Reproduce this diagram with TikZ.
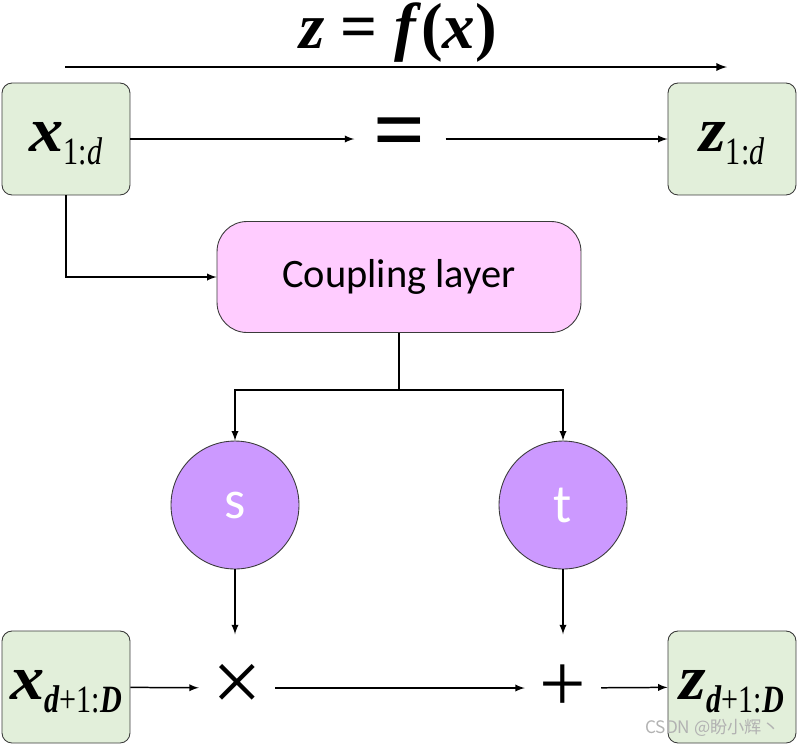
\documentclass[tikz,border=0pt]{standalone}
\usepackage{fontspec}
\setmainfont{Liberation Serif}
\newfontfamily\calibri{Carlito}
\newfontfamily\cjk{Noto Sans CJK SC}
\usetikzlibrary{arrows}

\definecolor{boxgreen}{HTML}{E2EFDA}
\definecolor{layerpink}{HTML}{FFCCFF}
\definecolor{netviolet}{HTML}{CC99FF}
\definecolor{edgegray}{HTML}{3A3A3A}

% variable with a subscript, as in the boxes
\newcommand{\varlab}[2]{\raisebox{-7pt}[0pt][0pt]{\fontsize{36}{36}\selectfont
\scalebox{1.08}[1]{\textbf{\textit{#1}}}\raisebox{-7.5pt}{\fontsize{22}{22}\selectfont\scalebox{0.78}[1]{#2}}}}

\begin{document}
\begin{tikzpicture}[x=0.02cm,y=-0.02cm,>=latex,line width=0.85pt,
var/.style={draw=edgegray,line width=0.5pt,fill=boxgreen,rounded corners=0.2cm,
  minimum width=2.56cm,minimum height=2.24cm,inner sep=0pt},
net/.style={circle,draw=edgegray,line width=0.5pt,fill=netviolet,minimum size=2.56cm,
  inner sep=0pt,text=white,font=\calibri\fontsize{31}{31}\selectfont},
op/.style={minimum width=1.5cm,minimum height=2.12cm,inner sep=0pt}]
\useasboundingbox (0,0) rectangle (798,745);

\node (title) at (398,33) {\fontsize{37}{37}\selectfont\bfseries
\textit{z} = \textit{f}(\textit{x})};
\coordinate (fl) at (65,67);
\coordinate (fr) at (727,67);
\draw[->,line width=1.1pt] (fl) -- (fr);

\node[var] (x1) at (66,139) {\varlab{x}{1:\textit{d}}};
\node[var] (z1) at (732,139) {\varlab{z}{1:\textit{d}}};
\node[var] (x2) at (66,687) {\varlab{x}{\textbf{\textit{d}}+1:\textbf{\textit{D}}}};
\node[var] (z2) at (732,687) {\varlab{z}{\textbf{\textit{d}}+1:\textbf{\textit{D}}}};

\node[minimum width=1.8cm,inner sep=0pt] (eq) at (400,139) {\fontsize{52}{52}\selectfont\bfseries =};
\draw[->] (x1) -- (eq);
\draw[->] (eq) -- (z1);

\node[draw=edgegray,line width=0.5pt,fill=layerpink,rounded corners=0.6cm,
minimum width=7.28cm,minimum height=2.22cm] (cpl) at (399,277)
{\calibri\fontsize{23}{23}\selectfont Coupling layer};
\draw[->] (x1.south) |- (cpl.west);

\node[net] (s) at (235,505) {s};
\node[net] (t) at (563,505) {t};
\coordinate (split) at (399,390);
\draw (cpl) -- (split);
\draw[->] (split) -| (s);
\draw[->] (split) -| (t);

\node[op] (mul) at (237,688) {\fontsize{50}{50}\selectfont ×};
\node[op] (add) at (563,688) {\fontsize{47}{47}\selectfont +};
\draw[->] (s) -- (s |- mul.north);
\draw[->] (t) -- (t |- add.north);
\draw[->] (x2) -- (mul);
\draw[->] (mul) -- (add);
\draw[->] (add) -- (z2);

\node[text=gray!60,font=\cjk\fontsize{9.8}{9.8}\selectfont,anchor=east] (mark) at (786,728) {CSDN @盼小辉丶};
\end{tikzpicture}
\end{document}
